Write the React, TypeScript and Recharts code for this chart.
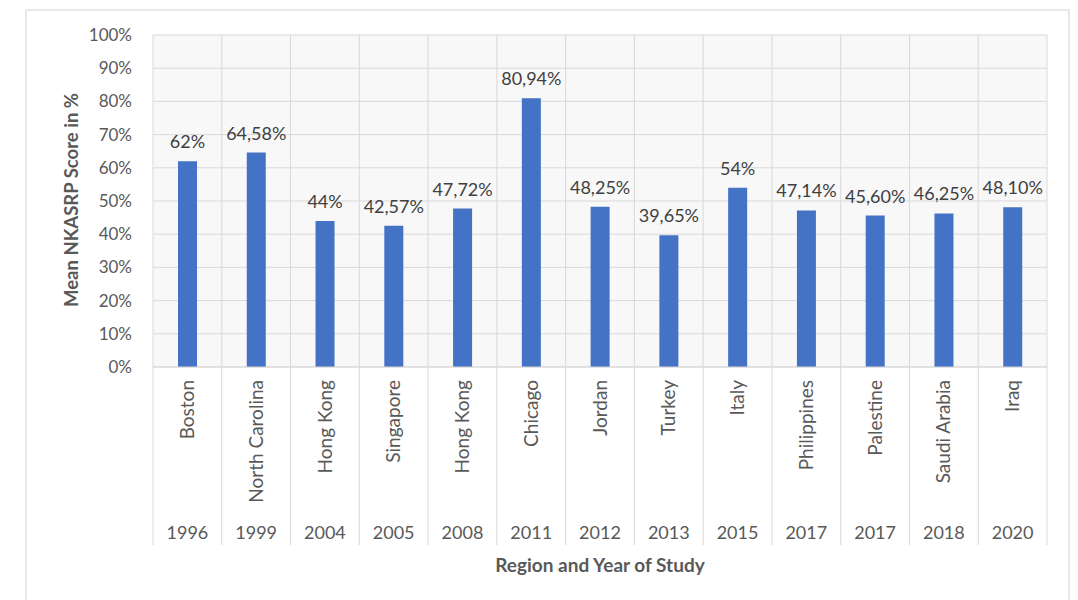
import { BarChart, Bar, XAxis, YAxis, CartesianGrid, LabelList } from 'recharts';

const regions = [
  'Boston', 'North Carolina', 'Hong Kong', 'Singapore', 'Hong Kong', 'Chicago', 'Jordan',
  'Turkey', 'Italy', 'Philippines', 'Palestine', 'Saudi Arabia', 'Iraq',
];
const years = ['1996', '1999', '2004', '2005', '2008', '2011', '2012', '2013', '2015', '2017', '2017', '2018', '2020'];
const scores = [62, 64.58, 44, 42.57, 47.72, 80.94, 48.25, 39.65, 54, 47.14, 45.6, 46.25, 48.1];
const yTicks = [0, 10, 20, 30, 40, 50, 60, 70, 80, 90, 100];

const chartData = regions.map((region, i) => ({ id: i, region, year: years[i], score: scores[i] }));

const FONT = 'Lato, "Open Sans", sans-serif';
const TEXT = '#595959';
const GRID = '#d9d9d9';
const PLOT_LEFT = 153;
const PLOT_RIGHT = 1047;
const BAND = (PLOT_RIGHT - PLOT_LEFT) / regions.length;
const AXIS_DEPTH = 178;

// excel style: integers without decimals, otherwise two decimals with a comma
const fmt = (v: any) => {
  const n = Number(v);
  return (Number.isInteger(n) ? String(n) : n.toFixed(2).replace('.', ',')) + '%';
};

function TwoLevelTick(props: any) {
  const { x, y, index } = props;
  const item = chartData[index];
  const last = index === chartData.length - 1;
  return (
    <g>
      <line x1={x - BAND / 2} y1={y} x2={x - BAND / 2} y2={y + AXIS_DEPTH} stroke={GRID} strokeWidth={1} />
      {last && (
        <line x1={x + BAND / 2} y1={y} x2={x + BAND / 2} y2={y + AXIS_DEPTH} stroke={GRID} strokeWidth={1} />
      )}
      <text
        x={x}
        y={y + 13}
        dy="0.35em"
        transform={`rotate(-90, ${x}, ${y + 13})`}
        textAnchor="end"
        fill={TEXT}
        fontSize={19}
        fontFamily={FONT}
      >
        {item.region}
      </text>
      <text x={x} y={y + 172} textAnchor="middle" fill={TEXT} fontSize={18} fontFamily={FONT}>
        {item.year}
      </text>
    </g>
  );
}

export default function App() {
  return (
    <div style={{ position: 'absolute', left: 0, top: 0, width: 1078, height: 600, background: '#fff' }}>
      <div
        style={{
          position: 'absolute', left: 25, top: 9, width: 1045, height: 620,
          border: '2px solid #e8e8e8', boxSizing: 'border-box',
        }}
      />
      <div style={{ position: 'absolute', left: 0, top: 0 }}>
        <BarChart
          width={1078}
          height={600}
          data={chartData}
          margin={{ top: 35, right: 1078 - PLOT_RIGHT, left: 0, bottom: 0 }}
          barCategoryGap={0}
        >
          <CartesianGrid
            stroke={GRID}
            fill="#f8f8f8"
            verticalCoordinatesGenerator={({ offset }: any) =>
              Array.from({ length: regions.length + 1 }, (_, i) => offset.left + (i * offset.width) / regions.length)
            }
          />
          <XAxis
            dataKey="id"
            type="category"
            height={600 - 35 - 332}
            axisLine={{ stroke: GRID }}
            tickLine={false}
            tickSize={0}
            tickMargin={0}
            interval={0}
            tick={<TwoLevelTick />}
            label={{
              content: () => (
                <text x={600} y={572} textAnchor="middle" fill={TEXT} fontSize={19} fontWeight="bold" fontFamily={FONT}>
                  Region and Year of Study
                </text>
              ),
            }}
          />
          <YAxis
            width={PLOT_LEFT}
            domain={[0, 100]}
            ticks={yTicks}
            axisLine={false}
            tickLine={false}
            tickMargin={15}
            tickFormatter={(v: number) => `${v}%`}
            tick={{ fill: TEXT, fontSize: 17, fontFamily: FONT }}
            label={{
              content: () => (
                <text
                  x={72}
                  y={200}
                  dy="0.35em"
                  transform="rotate(-90, 72, 200)"
                  textAnchor="middle"
                  fill={TEXT}
                  fontSize={18.5}
                  fontWeight="bold"
                  fontFamily={FONT}
                >
                  Mean NKASRP Score in %
                </text>
              ),
            }}
          />
          <Bar dataKey="score" fill="#4472C4" barSize={19} isAnimationActive={false}>
            <LabelList
              dataKey="score"
              position="top"
              offset={13}
              formatter={fmt}
              fill="#404040"
              fontSize={18}
              fontFamily={FONT}
            />
          </Bar>
        </BarChart>
      </div>
    </div>
  );
}
